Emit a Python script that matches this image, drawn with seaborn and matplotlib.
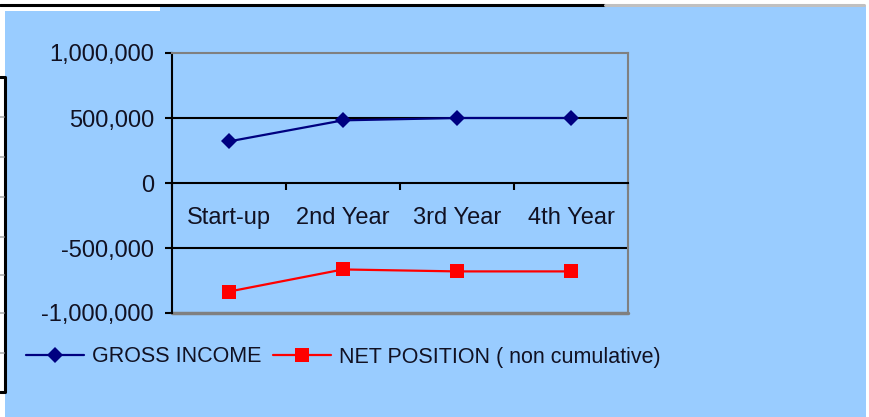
import matplotlib
matplotlib.use("Agg")
import matplotlib.pyplot as plt
from matplotlib.patches import Rectangle
from matplotlib.lines import Line2D
from matplotlib.ticker import FuncFormatter, FixedLocator
import seaborn as sns
import pandas as pd

# Chart data
periods = ["Start-up", "2nd Year", "3rd Year", "4th Year"]
gross_income = [320000, 482000, 500000, 500000]
net_position = [-835000, -665000, -680000, -680000]
series_names = ["GROSS INCOME", "NET POSITION ( non cumulative)"]
y_ticks = [-1000000, -500000, 0, 500000, 1000000]

BG = "#99CCFF"
NAVY = "#000080"
RED = "#FF0000"
TEXT = "#111122"
BORDER = "#808080"

sns.set_theme(style="white")
plt.rcParams["font.family"] = ["Liberation Sans", "DejaVu Sans"]
plt.rcParams["axes.unicode_minus"] = False

W, H = 870, 417
fig = plt.figure(figsize=(W / 100, H / 100), dpi=100, facecolor="white")

def px_rect(x0, y0, x1, y1, **kw):
    fig.add_artist(Rectangle((x0 / W, 1 - y1 / H), (x1 - x0) / W, (y1 - y0) / H,
                             transform=fig.transFigure, **kw))

def px_line(xs, ys, **kw):
    fig.add_artist(Line2D([x / W for x in xs], [1 - y / H for y in ys],
                          transform=fig.transFigure, **kw))

# Chart area and surrounding sheet edges
px_rect(5, 6, 866, 417, facecolor=BG, edgecolor="none", zorder=0)
px_rect(5, 6, 160, 11, facecolor="white", edgecolor="none", zorder=1)
px_line([0, 605], [5, 5], color="black", lw=2.2, zorder=2)
px_line([605, 864], [5, 5], color="#c0c0c0", lw=2.2, zorder=2)
px_line([0, 5, 5, 0], [77, 77, 392, 392], color="black", lw=2.2, zorder=2)
for yy in [117, 157, 197, 237, 275, 313, 353]:
    px_line([0, 4], [yy, yy], color="#b0b0b0", lw=1.2, zorder=2)

ax = fig.add_axes([172 / W, 1 - 313 / H, (628 - 172) / W, (313 - 53) / H])
ax.set_facecolor(BG)

df = pd.DataFrame({
    "period": periods * 2,
    "value": gross_income + net_position,
    "series": [series_names[0]] * len(periods) + [series_names[1]] * len(periods),
})

sns.lineplot(
    data=df, x="period", y="value", hue="series", style="series",
    palette={series_names[0]: NAVY, series_names[1]: RED},
    markers={series_names[0]: "D", series_names[1]: "s"},
    dashes=False, sort=False, ax=ax, linewidth=1.6,
    markeredgewidth=0, zorder=5,
)
for line in ax.lines:
    if line.get_marker() == "D":
        line.set_markersize(8)
    else:
        line.set_markersize(9.5)

ax.set_xlim(-0.5, 3.5)
ax.set_ylim(-1000000, 1000000)

# Gridlines
for g in [-500000, 500000]:
    ax.axhline(g, color="black", lw=1.5, zorder=2)

# Spines: value axis black on the left, category axis at zero
ax.spines["left"].set_color("black")
ax.spines["left"].set_linewidth(1.5)
ax.spines["bottom"].set_position(("data", 0))
ax.spines["bottom"].set_color("black")
ax.spines["bottom"].set_linewidth(1.5)
ax.spines["bottom"].set_zorder(3)
for s in ["top", "right"]:
    ax.spines[s].set_color(BORDER)
    ax.spines[s].set_linewidth(1.5)
ax.axhline(-1000000, color=BORDER, lw=2.5, zorder=1, clip_on=False)

ax.yaxis.set_major_locator(FixedLocator(y_ticks))
ax.yaxis.set_major_formatter(FuncFormatter(lambda v, p: f"{v:,.0f}"))
ax.tick_params(axis="y", which="major", direction="out", length=5, width=1.5,
               color="black", left=True, pad=8, labelsize=17, labelcolor=TEXT)

ax.set_xticks(range(len(periods)))
ax.set_xticklabels(periods)
ax.set_xticks([-0.5, 0.5, 1.5, 2.5, 3.5], minor=True)
ax.tick_params(axis="x", which="major", length=0, pad=17, labelsize=17, labelcolor=TEXT)
ax.tick_params(axis="x", which="minor", direction="out", length=5, width=1.5,
               color="black", bottom=True)

ax.set_xlabel("")
ax.set_ylabel("")

handles, labels = ax.get_legend_handles_labels()
ax.legend_.remove()
fig.legend(handles, labels, loc="center left", bbox_to_anchor=(17 / W, 1 - 357 / H),
           ncol=2, frameon=False, handlelength=2.7, handletextpad=0.37,
           columnspacing=0.55, labelcolor=TEXT, borderaxespad=0, fontsize=15.5)

fig.savefig("out.png", dpi=100, facecolor="white")
